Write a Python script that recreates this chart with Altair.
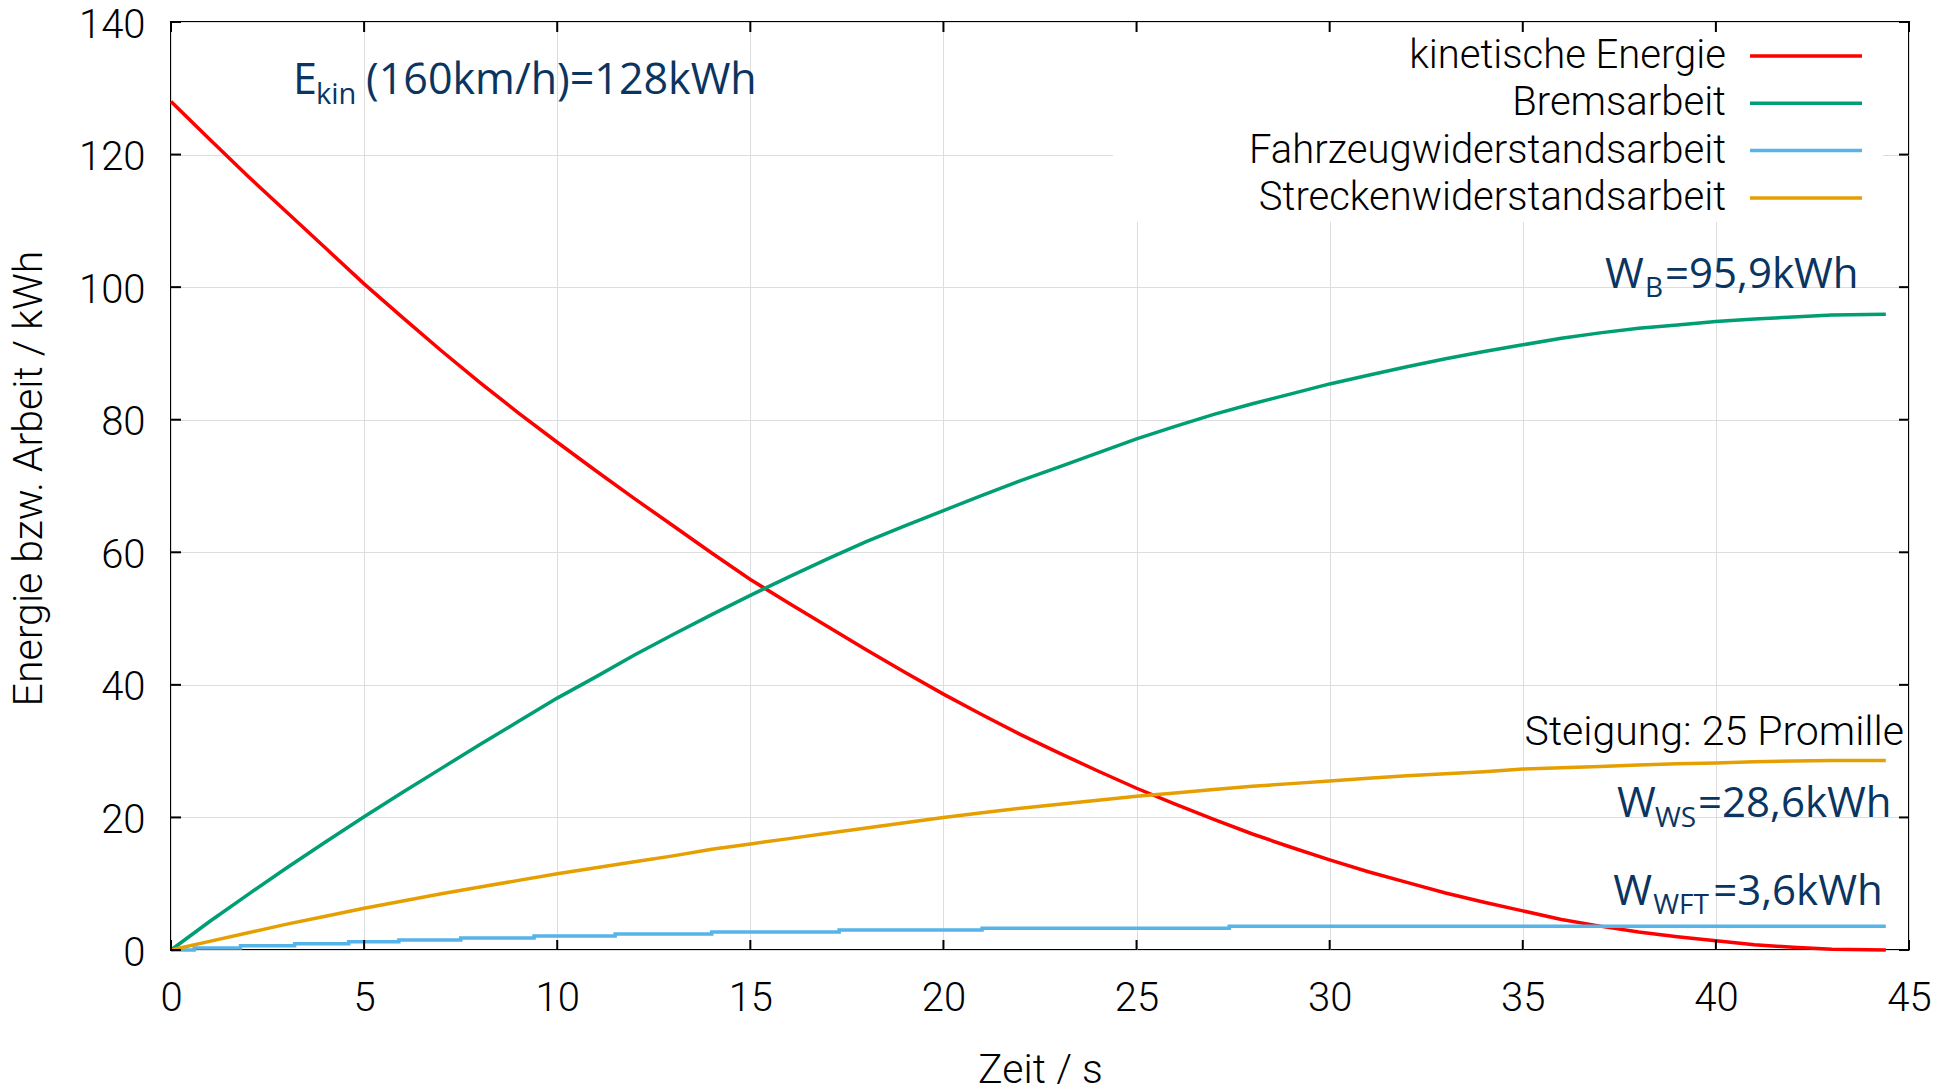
import altair as alt
import pandas as pd

# ---------------- data ----------------
series_names = ["kinetische Energie", "Bremsarbeit",
                "Fahrzeugwiderstandsarbeit", "Streckenwiderstandsarbeit"]
series_colors = ["#ff0000", "#009e73", "#56b4e9", "#e69f00"]

t_main = [0, 1, 2, 3, 4, 5, 6, 7, 8, 9, 10, 11, 12, 13, 14, 15, 16, 17, 18, 19,
          20, 21, 22, 23, 24, 25, 26, 27, 28, 29, 30, 31, 32, 33, 34, 35, 36,
          37, 38, 39, 40, 41, 42, 43, 44.4]
e_kin = [128.0, 122.3, 116.7, 111.3, 105.9, 100.5, 95.4, 90.4, 85.6, 81.0,
         76.6, 72.3, 68.1, 64.0, 59.9, 55.9, 52.3, 48.8, 45.3, 41.9,
         38.6, 35.5, 32.5, 29.7, 27.0, 24.4, 22.0, 19.7, 17.5, 15.5,
         13.6, 11.8, 10.2, 8.6, 7.2, 5.9, 4.6, 3.6, 2.7, 2.0,
         1.4, 0.8, 0.4, 0.1, 0.0]
w_b = [0.0, 4.3, 8.4, 12.4, 16.3, 20.1, 23.8, 27.4, 31.0, 34.5,
       38.0, 41.2, 44.5, 47.6, 50.6, 53.5, 56.3, 59.0, 61.6, 64.0,
       66.3, 68.6, 70.8, 72.9, 75.0, 77.1, 79.0, 80.8, 82.4, 83.9,
       85.4, 86.7, 88.0, 89.2, 90.3, 91.3, 92.3, 93.1, 93.8, 94.3,
       94.8, 95.2, 95.5, 95.8, 95.9]
w_ws = [0.0, 1.3, 2.6, 3.9, 5.1, 6.3, 7.4, 8.5, 9.5, 10.5,
        11.5, 12.4, 13.3, 14.2, 15.2, 16.0, 16.8, 17.6, 18.4, 19.2,
        20.0, 20.7, 21.4, 22.0, 22.6, 23.2, 23.7, 24.2, 24.7, 25.1,
        25.5, 25.9, 26.3, 26.6, 26.9, 27.3, 27.5, 27.7, 27.9, 28.1,
        28.2, 28.4, 28.5, 28.6, 28.6]
t_wft = [0, 0.6, 1.8, 3.2, 4.6, 5.9, 7.5, 9.4, 11.5, 14.0, 17.3, 21.0, 27.4, 44.4]
w_wft = [0.0, 0.3, 0.65, 0.95, 1.26, 1.5, 1.8, 2.1, 2.4, 2.7, 3.0, 3.27, 3.6, 3.6]

x_ticks = [0, 5, 10, 15, 20, 25, 30, 35, 40, 45]
y_ticks = [0, 20, 40, 60, 80, 100, 120, 140]

x_title = "Zeit / s"
y_title = "Energie bzw. Arbeit / kWh"
note_text = "Steigung: 25 Promille"

# annotations: (t, value, [(text, dx, dy, fontsize), ...])
annotations = [
    (3.16, 129.2, [("E", 0, 0, 43), ("kin", 23, 10, 29), ("(160km/h)=128kWh", 73, 0, 43)]),
    (37.13, 99.9, [("W", 0, 0, 42), ("B", 40, 9, 28), ("=95,9kWh", 60, 0, 42)]),
    (37.44, 20.06, [("W", 0, 0, 42), ("WS", 38, 10, 28), ("=28,6kWh", 81, 0, 42)]),
    (37.34, 6.8, [("W", 0, 0, 42), ("WFT", 40, 9, 28), ("=3,6kWh", 100, 0, 42)]),
]

# ---------------- layout ----------------
W, H = 1738, 928
FONT = "Roboto"
FW = 300
ANNO_FONT = "Open Sans"
ANNO_COLOR = "#0b3561"
FS = 40      # tick labels
FT = 41      # axis titles

df_main = pd.DataFrame({"t": t_main * 3,
                        "v": e_kin + w_b + w_ws,
                        "series": [series_names[0]] * len(t_main)
                        + [series_names[1]] * len(t_main)
                        + [series_names[3]] * len(t_main)})
df_wft = pd.DataFrame({"t": t_wft, "v": w_wft, "series": [series_names[2]] * len(t_wft)})

xscale = alt.Scale(domain=[0, 45], nice=False, zero=False)
yscale = alt.Scale(domain=[0, 140], nice=False)
color_scale = alt.Scale(domain=series_names, range=series_colors)

x_enc = alt.X("t:Q", scale=xscale, axis=alt.Axis(
    values=x_ticks, grid=True, gridColor="#dddddd", gridWidth=1, ticks=False,
    domain=False, labelFont=FONT, labelFontWeight=FW, labelFontSize=FS, labelColor="black",
    labelPadding=28, labelFlush=False, title=x_title, titleFont=FONT, titleFontWeight=FW,
    titleFontSize=FT, titleColor="black", titlePadding=32))
y_enc = alt.Y("v:Q", scale=yscale, axis=alt.Axis(
    values=y_ticks, grid=True, gridColor="#dddddd", gridWidth=1, ticks=False,
    domain=False, labelFont=FONT, labelFontWeight=FW, labelFontSize=FS, labelColor="black",
    labelPadding=26, labelOffset=3, labelFlush=False, title=y_title, titleFont=FONT,
    titleFontWeight=FW, titleFontSize=FT, titleColor="black", titlePadding=28, titleY=456))
color_enc = alt.Color("series:N", scale=color_scale, legend=None)

layers = []

# opaque key background (covers grid under the key, as in the reference)
layers.append(alt.Chart(pd.DataFrame({"a": [0]})).mark_rect(color="white").encode(
    x=alt.value(942), x2=alt.value(1712), y=alt.value(1), y2=alt.value(200)))

def line_layer(df, name, **kw):
    return alt.Chart(df[df.series == name]).mark_line(strokeWidth=3.5, **kw).encode(
        x=x_enc, y=y_enc, color=color_enc)

layers.append(line_layer(df_main, series_names[0]))
layers.append(line_layer(df_main, series_names[1]))
layers.append(line_layer(df_wft, series_names[2], interpolate="step-after"))
layers.append(line_layer(df_main, series_names[3]))

# inward ticks on all four sides
tick_len = 10
dfx = pd.DataFrame({"t": x_ticks})
dfy = pd.DataFrame({"v": y_ticks})
layers.append(alt.Chart(dfx).mark_rule(color="black", strokeWidth=2).encode(
    x=alt.X("t:Q", scale=xscale), y=alt.value(H), y2=alt.value(H - tick_len)))
layers.append(alt.Chart(dfx).mark_rule(color="black", strokeWidth=2).encode(
    x=alt.X("t:Q", scale=xscale), y=alt.value(0), y2=alt.value(tick_len)))
layers.append(alt.Chart(dfy).mark_rule(color="black", strokeWidth=2).encode(
    y=alt.Y("v:Q", scale=yscale), x=alt.value(0), x2=alt.value(tick_len)))
layers.append(alt.Chart(dfy).mark_rule(color="black", strokeWidth=2).encode(
    y=alt.Y("v:Q", scale=yscale), x=alt.value(W), x2=alt.value(W - tick_len)))

# key (labels right-aligned, line samples to the right, as gnuplot draws it)
key_df = pd.DataFrame({"series": series_names, "row": list(range(len(series_names)))})
key_base = alt.Chart(key_df).transform_calculate(ypix="34 + datum.row * 47.3")
layers.append(key_base.mark_text(
    align="right", baseline="middle", font=FONT, fontWeight=FW, fontSize=40, color="black").encode(
    x=alt.value(1555), y=alt.Y("ypix:Q", scale=None, axis=None), text="series:N"))
layers.append(key_base.mark_rule(strokeWidth=3.5).encode(
    x=alt.value(1579), x2=alt.value(1691), y=alt.Y("ypix:Q", scale=None, axis=None),
    color=color_enc))

# annotations
for (t, v, parts) in annotations:
    for (txt, dx, dy, fs) in parts:
        layers.append(alt.Chart(pd.DataFrame({"t": [t], "v": [v], "txt": [txt]})).mark_text(
            align="left", baseline="alphabetic", font=ANNO_FONT, fontSize=fs,
            color=ANNO_COLOR, dx=dx, dy=dy).encode(
            x=alt.X("t:Q", scale=xscale), y=alt.Y("v:Q", scale=yscale), text="txt:N"))

layers.append(alt.Chart(pd.DataFrame({"t": [44.87], "v": [30.9], "txt": [note_text]})).mark_text(
    align="right", baseline="alphabetic", font=FONT, fontWeight=FW, fontSize=41, color="black").encode(
    x=alt.X("t:Q", scale=xscale), y=alt.Y("v:Q", scale=yscale), text="txt:N"))

chart = alt.layer(*layers).properties(
    width=W, height=H,
    autosize=alt.AutoSizeParams(type="none"),
    padding={"left": 163, "top": 14, "right": 37, "bottom": 134},
    background="white",
).configure_view(stroke="black", strokeWidth=2)

chart.save("out.html", embed_options={"renderer": "svg", "actions": False})
